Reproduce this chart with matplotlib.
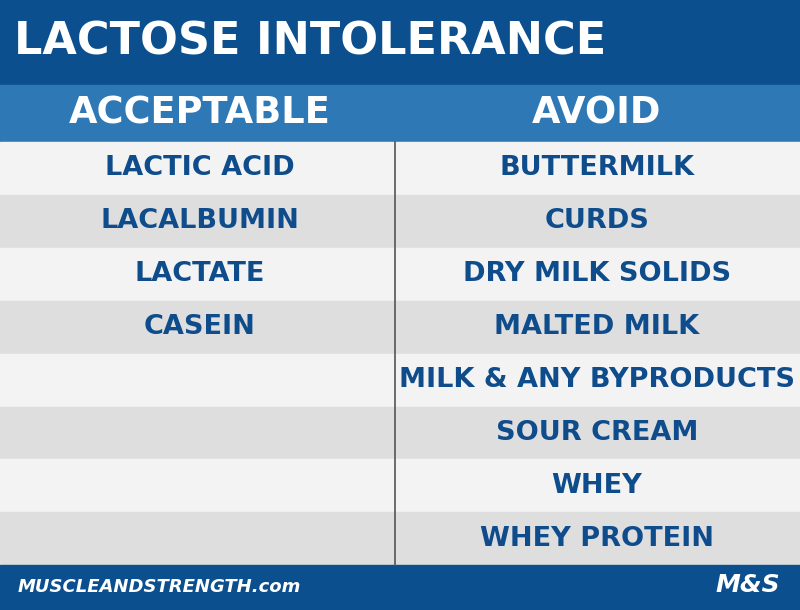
import matplotlib
matplotlib.use("Agg")
import matplotlib.pyplot as plt
from matplotlib.patches import Rectangle

title = "LACTOSE INTOLERANCE"
headers = ["ACCEPTABLE", "AVOID"]
acceptable = ["LACTIC ACID", "LACALBUMIN", "LACTATE", "CASEIN", "", "", "", ""]
avoid = ["BUTTERMILK", "CURDS", "DRY MILK SOLIDS", "MALTED MILK",
         "MILK & ANY BYPRODUCTS", "SOUR CREAM", "WHEY", "WHEY PROTEIN"]
footer = "MUSCLEANDSTRENGTH.com"

DARK = "#0b4f8e"
HEAD = "#2e78b5"
TXT = "#0e4c8c"
ROWC = ["#f3f3f3", "#dedede"]
FONT = ["DejaVu Sans"]

fig = plt.figure(figsize=(8, 6.1), dpi=100)
ax = fig.add_axes([0, 0, 1, 1])
ax.set_xlim(0, 800); ax.set_ylim(610, 0); ax.axis("off")

ax.add_patch(Rectangle((0, 0), 800, 85, color=DARK))
ax.text(14, 42, title, color="white", fontsize=32, fontweight="heavy",
        va="center", ha="left", family=FONT)
ax.add_patch(Rectangle((0, 85), 800, 57, color=HEAD))
for i, h in enumerate(headers):
    ax.text(200 + i * 397, 113, h, color="white", fontsize=26.5, fontweight="bold",
            va="center", ha="center", family=FONT)

top, rh = 142, 52.9
for r in range(len(avoid)):
    y = top + r * rh
    ax.add_patch(Rectangle((0, y), 800, rh, color=ROWC[r % 2]))
    ax.text(200, y + rh / 2, acceptable[r], color=TXT, fontsize=19.5, fontweight="bold",
            va="center", ha="center", family=FONT)
    ax.text(597, y + rh / 2, avoid[r], color=TXT, fontsize=19.5, fontweight="bold",
            va="center", ha="center", family=FONT)
ax.plot([395, 395], [top, top + rh * len(avoid)], color="#555555", lw=1.2)

ax.add_patch(Rectangle((0, 565), 800, 45, color=DARK))
ax.text(18, 587, footer, color="white", fontsize=13, fontweight="bold",
        style="italic", va="center", ha="left", family=FONT)
ax.text(780, 585, "M&S", color="white", fontsize=18, fontweight="bold",
        style="italic", va="center", ha="right", family=FONT)

fig.savefig("out.png", dpi=100)
